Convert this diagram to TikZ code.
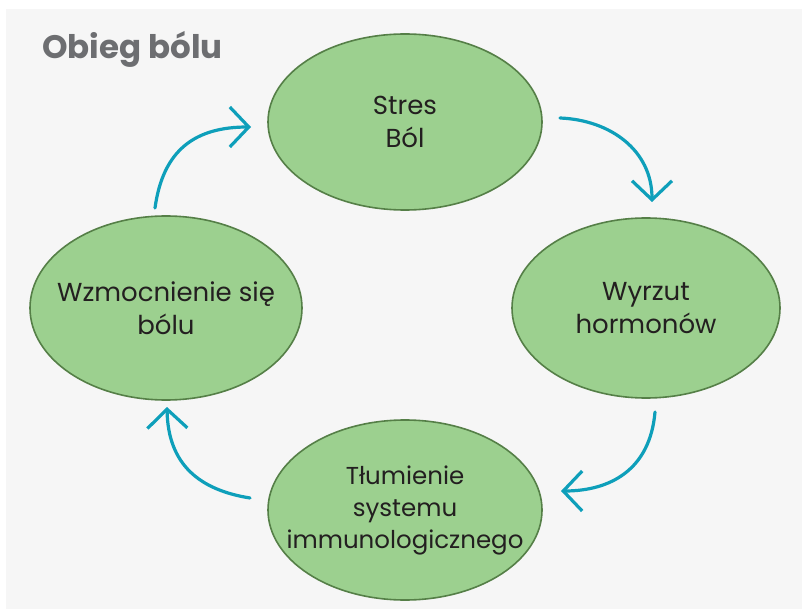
\documentclass[tikz,border=0pt]{standalone}
\usepackage{fontspec}
\setmainfont{Poppins}
\usetikzlibrary{arrows.meta,shapes.geometric}
\definecolor{bg}{HTML}{F6F6F6}
\definecolor{ellfill}{HTML}{9CD08F}
\definecolor{elldraw}{HTML}{557F47}
\definecolor{teal}{HTML}{0E9FBA}
\definecolor{titlegray}{HTML}{6D6E71}
\definecolor{txt}{HTML}{231F20}
\tikzset{
  stage/.style={ellipse, draw=elldraw, fill=ellfill, line width=1.6pt,
    text=txt, align=center, font=\fontsize{26}{33}\selectfont,
    inner xsep=-50pt, inner ysep=-25pt},
  cyc/.style={draw=teal, line width=3.2pt, line cap=round,
    -{Straight Barb[length=19pt,width=40pt,line width=3.2pt]}},
}
\begin{document}
\begin{tikzpicture}[x=1pt,y=-1pt]
\useasboundingbox (0,0) rectangle (802,609);
\fill[bg] (6,9) rectangle (802,609);
\node[anchor=base west, text=titlegray, inner sep=0pt, font=\fontsize{32.5}{36}\selectfont\bfseries] (title) at (42,59) {Obieg bólu};
\node[stage, minimum width=274pt, minimum height=176pt] (top) at (405,122) {Stres\\Ból};
\node[stage, minimum width=268pt, minimum height=180pt] (right) at (646,308) {Wyrzut\\hormonów};
\node[stage, minimum width=272pt, minimum height=184pt] (left) at (166,308) {Wzmocnienie się\\bólu};
\node[stage, minimum width=274pt, minimum height=180pt, font=\fontsize{24.5}{32}\selectfont] (bottom) at (405,510) {Tłumienie\\systemu\\immunologicznego};
\coordinate (a1s) at (155,208); \coordinate (a1e) at (251,127);
\coordinate (a2s) at (560,118); \coordinate (a2e) at (652,202);
\coordinate (a3s) at (655,412); \coordinate (a3e) at (561,491);
\coordinate (a4s) at (250,498); \coordinate (a4e) at (167,407);
\draw[cyc] (a1s) .. controls (163,150) and (195,127) .. (a1e);
\draw[cyc] (a2s) .. controls (610,120) and (652,150) .. (a2e);
\draw[cyc] (a3s) .. controls (650,470) and (610,491) .. (a3e);
\draw[cyc] (a4s) .. controls (200,490) and (168,465) .. (a4e);
\end{tikzpicture}
\end{document}
